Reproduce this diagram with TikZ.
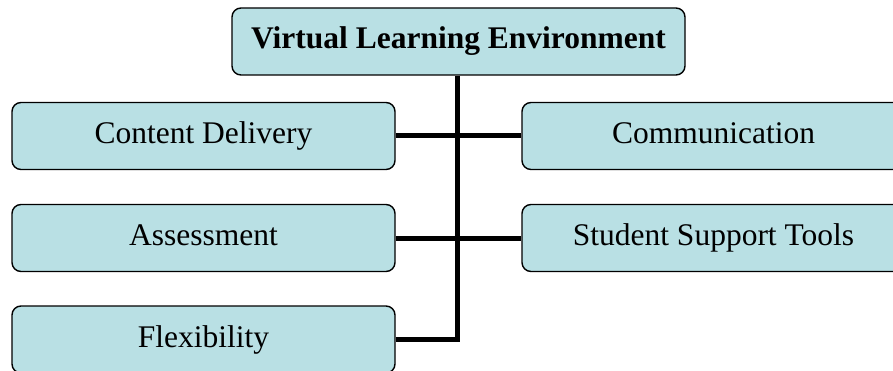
\documentclass[tikz,border=0pt]{standalone}
\usepackage{fontspec}
\setmainfont{Liberation Serif}
\definecolor{boxfill}{RGB}{185,224,228}
\begin{document}
\begin{tikzpicture}[x=1pt,y=-1pt,
  box/.style={draw=black,line width=1.4pt,fill=boxfill,rounded corners=9pt,
    minimum width=383pt,minimum height=67pt,inner sep=0pt,
    text height=22pt,text depth=7pt,
    font=\fontsize{31.5}{36}\selectfont},
  conn/.style={line width=5pt}]
\useasboundingbox (0,0) rectangle (893,371);
\clip (0,0) rectangle (893,371);
\node[box,minimum width=453pt,font=\fontsize{31.5}{36}\selectfont\bfseries] (top) at (458.5,41.5) {Virtual Learning Environment};
\node[box] (cd) at (203.5,136) {Content Delivery};
\node[box] (as) at (203.5,238) {Assessment};
\node[box] (fl) at (203.5,339.5) {Flexibility};
\node[box] (co) at (713.5,136) {Communication};
\node[box] (ss) at (713.5,238) {Student Support Tools};
\coordinate (j1) at (457,136);
\coordinate (j2) at (457,238);
\coordinate (j3) at (457,339);
\draw[conn] (top.south -| j1) -- ([yshift=2.5pt]j3);
\draw[conn] (cd.east) -- (co.west);
\draw[conn] (as.east) -- (ss.west);
\draw[conn] (fl.east |- j3) -- ([xshift=2.5pt]j3);
\end{tikzpicture}
\end{document}
